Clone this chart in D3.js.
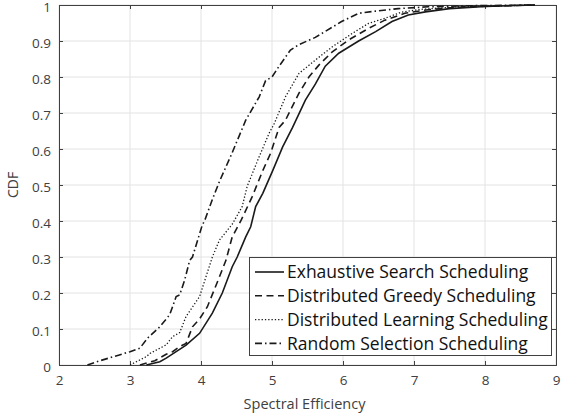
<!DOCTYPE html>
<html><head><meta charset="utf-8">
<script src="https://cdn.jsdelivr.net/npm/d3@7"></script>
<style>body{margin:0;background:#fff}svg{display:block}text{font-family:"Open Sans",sans-serif}</style>
</head><body><svg id="c" width="563" height="417"></svg>
<script>
const xTicks = [2,3,4,5,6,7,8,9];
const yTicks = [0,0.1,0.2,0.3,0.4,0.5,0.6,0.7,0.8,0.9,1];
const seriesNames = ["Exhaustive Search Scheduling","Distributed Greedy Scheduling","Distributed Learning Scheduling","Random Selection Scheduling"];
const exhaustiveX = [3.23,3.42,3.51,3.65,3.79,3.98,4.16,4.30,4.44,4.51,4.63,4.70,4.77,4.87,5.01,5.15,5.29,5.47,5.61,5.75,5.94,6.22,6.46,6.69,6.92,7.16,7.5,8.0,8.7];
const exhaustiveY = [0,0.009,0.019,0.037,0.055,0.088,0.144,0.20,0.273,0.30,0.356,0.384,0.44,0.477,0.54,0.606,0.66,0.736,0.78,0.83,0.866,0.90,0.926,0.954,0.972,0.981,0.99,0.996,1];
const greedyX = [3.14,3.35,3.51,3.60,3.70,3.79,3.88,3.98,4.09,4.26,4.35,4.44,4.56,4.72,4.87,4.98,5.10,5.19,5.38,5.52,5.66,5.85,6.08,6.36,6.59,6.87,7.2,7.7,8.7];
const greedyY = [0,0.012,0.03,0.037,0.051,0.06,0.106,0.128,0.162,0.245,0.29,0.356,0.40,0.467,0.54,0.588,0.66,0.68,0.755,0.80,0.833,0.87,0.903,0.935,0.958,0.977,0.987,0.995,1];
const learningX = [3.0,3.23,3.28,3.51,3.60,3.70,3.79,3.98,4.07,4.16,4.26,4.44,4.58,4.65,4.82,4.96,5.03,5.19,5.38,5.61,5.85,6.13,6.36,6.59,6.82,7.1,7.6,8.7];
const learningY = [0,0.023,0.032,0.056,0.079,0.09,0.135,0.19,0.245,0.30,0.347,0.391,0.44,0.496,0.579,0.644,0.67,0.745,0.81,0.847,0.884,0.921,0.949,0.963,0.98,0.988,0.995,1];
const randomX = [2.4,2.58,2.85,3.0,3.14,3.25,3.42,3.56,3.65,3.70,3.77,3.84,3.88,4.02,4.05,4.16,4.26,4.44,4.63,4.82,4.91,5.0,5.10,5.26,5.38,5.61,5.98,6.22,6.46,6.78,7.2,7.8,8.7];
const randomY = [0,0.012,0.028,0.037,0.047,0.075,0.106,0.14,0.19,0.195,0.236,0.29,0.30,0.39,0.40,0.46,0.51,0.59,0.68,0.745,0.79,0.80,0.83,0.875,0.89,0.91,0.954,0.977,0.983,0.99,0.995,0.998,1];

const series = [
  {name: seriesNames[0], x: exhaustiveX, y: exhaustiveY, dash: null, w: 1.6},
  {name: seriesNames[1], x: greedyX, y: greedyY, dash: "7,4.5", w: 1.6},
  {name: seriesNames[2], x: learningX, y: learningY, dash: "1.3,2", w: 1.3},
  {name: seriesNames[3], x: randomX, y: randomY, dash: "7,3,1.5,3", w: 1.6}
];

const svg = d3.select("#c");
const L = 59, R = 556, T = 5, B = 365;
const x = d3.scaleLinear().domain([2,9]).range([L,R]);
const y = d3.scaleLinear().domain([0,1]).range([B,T]);
const axCol = "#404040";

// grid
svg.append("g").selectAll("line").data(xTicks).join("line")
  .attr("x1",d=>x(d)).attr("x2",d=>x(d)).attr("y1",T).attr("y2",B)
  .attr("stroke","#e3e3e3").attr("stroke-width",1);
svg.append("g").selectAll("line").data(yTicks).join("line")
  .attr("y1",d=>y(d)).attr("y2",d=>y(d)).attr("x1",L).attr("x2",R)
  .attr("stroke","#e3e3e3").attr("stroke-width",1);

// axes
const fmt = d3.format("");
const axB = svg.append("g").attr("transform",`translate(0,${B})`)
  .call(d3.axisBottom(x).tickValues(xTicks).tickSize(-4).tickPadding(10).tickFormat(fmt));
const axT = svg.append("g").attr("transform",`translate(0,${T})`)
  .call(d3.axisTop(x).tickValues(xTicks).tickSize(-4).tickFormat(""));
const axL = svg.append("g").attr("transform",`translate(${L},0)`)
  .call(d3.axisLeft(y).tickValues(yTicks).tickSize(-4).tickPadding(8).tickFormat(fmt));
const axR = svg.append("g").attr("transform",`translate(${R},0)`)
  .call(d3.axisRight(y).tickValues(yTicks).tickSize(-4).tickFormat(""));
[axB,axT,axL,axR].forEach(a=>{
  a.select(".domain").attr("stroke",axCol).attr("stroke-width",1);
  a.selectAll(".tick line").attr("stroke",axCol);
  a.selectAll(".tick text").attr("fill",axCol).style("font-size","13.5px").style("font-family","'Open Sans',sans-serif");
});
axL.selectAll(".tick text").attr("dy","0.45em");

// lines
const line = d3.line().x(d=>x(d[0])).y(d=>y(d[1]));
const g = svg.append("g");
series.forEach(s=>{
  const pts = s.x.map((v,i)=>[v,s.y[i]]);
  g.append("path").datum(pts).attr("d",line).attr("fill","none")
    .attr("stroke","#1a1a1a").attr("stroke-width",s.w)
    .attr("stroke-dasharray",s.dash);
});

// legend
const lg = svg.append("g");
lg.append("rect").attr("x",249.5).attr("y",257.5).attr("width",302).attr("height",98)
  .attr("fill","#fff").attr("stroke",axCol).attr("stroke-width",1);
series.forEach((s,i)=>{
  const cy = 272 + i*23.8;
  lg.append("line").attr("x1",255).attr("x2",284).attr("y1",cy).attr("y2",cy)
    .attr("stroke","#1a1a1a").attr("stroke-width",s.w).attr("stroke-dasharray",s.dash);
  lg.append("text").attr("x",287).attr("y",cy).attr("dy","0.36em")
    .style("font-size","17.5px").attr("fill","#111").text(s.name);
});

// labels
svg.append("text").attr("x",(L+R)/2 - 3).attr("y",409).attr("text-anchor","middle")
  .style("font-size","14.5px").attr("fill",axCol).text("Spectral Efficiency");
svg.append("text").attr("transform",`translate(18,${(T+B)/2}) rotate(-90)`).attr("text-anchor","middle")
  .style("font-size","14px").attr("fill",axCol).text("CDF");
</script></body></html>
